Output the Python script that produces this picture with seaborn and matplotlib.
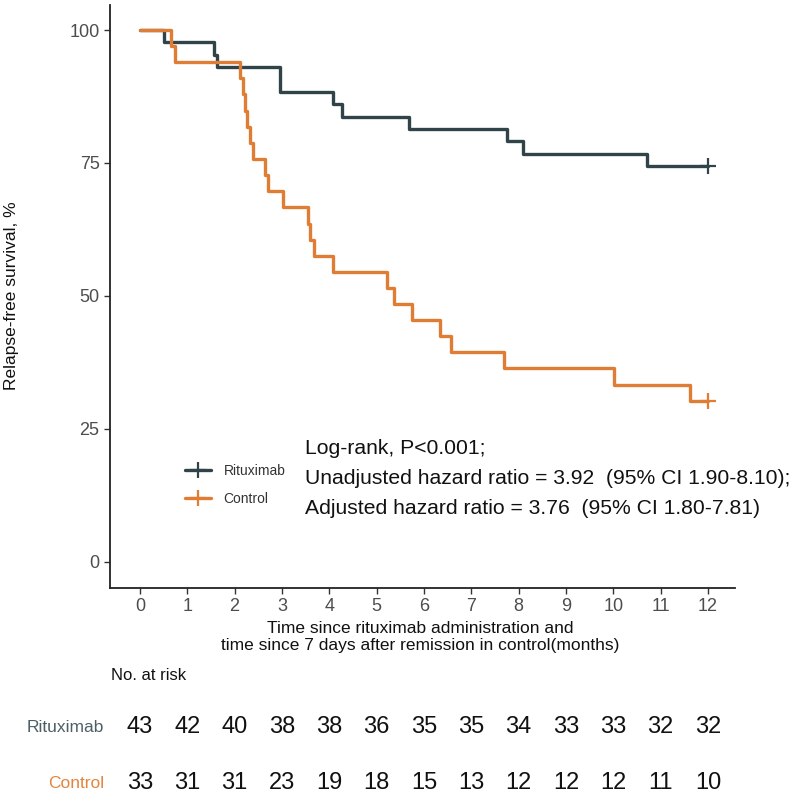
import pandas as pd
import matplotlib
matplotlib.use("Agg")
import matplotlib.pyplot as plt
import seaborn as sns
from matplotlib.lines import Line2D

# Kaplan-Meier steps
ritux_time = [0, 0.51, 1.57, 1.62, 2.96, 4.08, 4.27, 5.69, 7.76, 8.10, 10.71, 12.0]
ritux_surv = [100, 97.7, 95.3, 93.0, 88.4, 86.0, 83.7, 81.4, 79.1, 76.7, 74.4, 74.4]

ctrl_time = [0, 0.66, 0.74, 2.11, 2.18, 2.23, 2.27, 2.32, 2.39, 2.65, 2.71, 3.03,
             3.56, 3.60, 3.67, 4.08, 5.21, 5.37, 5.75, 6.34, 6.58, 7.70, 10.02, 11.63, 12.0]
ctrl_surv = [100, 97.0, 93.9, 90.9, 87.9, 84.8, 81.8, 78.8, 75.8, 72.7, 69.7, 66.7,
             63.6, 60.6, 57.6, 54.5, 51.5, 48.5, 45.5, 42.4, 39.4, 36.4, 33.3, 30.3, 30.3]

groups = ["Rituximab", "Control"]
risk_times = list(range(13))
ritux_risk = [43, 42, 40, 38, 38, 36, 35, 35, 34, 33, 33, 32, 32]
ctrl_risk = [33, 31, 31, 23, 19, 18, 15, 13, 12, 12, 12, 11, 10]

stats_text = ["Log-rank, P<0.001;",
              "Unadjusted hazard ratio = 3.92  (95% CI 1.90-8.10);",
              "Adjusted hazard ratio = 3.76  (95% CI 1.80-7.81)"]

colors = {"Rituximab": "#2f4349", "Control": "#e07d35"}
label_colors = {"Rituximab": "#4d5f66", "Control": "#e3853f"}

df = pd.concat([
    pd.DataFrame({"time": ritux_time, "surv": ritux_surv, "group": "Rituximab"}),
    pd.DataFrame({"time": ctrl_time, "surv": ctrl_surv, "group": "Control"}),
])
censor = df.groupby("group").tail(1)

sns.set_theme(style="ticks")
plt.rcParams["font.family"] = ["Liberation Sans", "DejaVu Sans"]

W, H = 792, 799
fig = plt.figure(figsize=(W / 100, H / 100), dpi=100)
ax = fig.add_axes([110 / W, 1 - 588 / H, 625 / W, 583 / H])

sns.lineplot(data=df, x="time", y="surv", hue="group", palette=colors,
             estimator=None, sort=False, drawstyle="steps-post",
             linewidth=2.4, legend=False, ax=ax)
sns.scatterplot(data=censor, x="time", y="surv", hue="group", palette=colors,
                marker="+", s=130, linewidth=1.6, legend=False, ax=ax, zorder=3)

ax.set_xlim(-0.63, 12.57)
ax.set_ylim(-4.9, 104.7)
ax.set_xticks(risk_times)
ax.set_yticks([0, 25, 50, 75, 100])
ax.tick_params(labelsize=13, labelcolor="#4d4d4d", length=4, width=1, color="#333333")
for s in ["top", "right"]:
    ax.spines[s].set_visible(False)
for s in ["left", "bottom"]:
    ax.spines[s].set_linewidth(1.3)
    ax.spines[s].set_color("#222222")
ax.set_xlabel("")
ax.set_ylabel("")

fig.text(12 / W, 1 - 296 / H, "Relapse-free survival, %", rotation=90,
         ha="center", va="center", fontsize=12.5, color="#111111")
fig.text(420 / W, 1 - 637 / H,
         "Time since rituximab administration and\ntime since 7 days after remission in control(months)",
         ha="center", va="center", fontsize=12.5, linespacing=1.15, color="#111111")

# legend
handles = [Line2D([0], [0], color=colors[g], lw=2.4, marker="+", markersize=11,
                  markeredgewidth=1.6) for g in groups]
leg = ax.legend(handles, groups, loc="center left", frameon=False,
                bbox_to_anchor=(172 / W, 1 - 485 / H), bbox_transform=fig.transFigure,
                handlelength=1.9, handletextpad=0.9, labelspacing=1.0,
                prop={"size": 10})
for t in leg.get_texts():
    t.set_color("#333333")

for i, line in enumerate(stats_text):
    fig.text(305 / W, 1 - (449 + 30 * i) / H, line, ha="left", va="center",
             fontsize=15.2, color="#111111")

# risk table
fig.text(111 / W, 1 - 676 / H, "No. at risk", ha="left", va="center",
         fontsize=12, color="#111111")
rows = {"Rituximab": (ritux_risk, 727), "Control": (ctrl_risk, 783)}
blend = matplotlib.transforms.blended_transform_factory(ax.transData, fig.transFigure)
for g, (vals, ypix) in rows.items():
    fig.text(104 / W, 1 - ypix / H, g, ha="right", va="center", fontsize=12.5,
             color=label_colors[g])
    for t, v in zip(risk_times, vals):
        ax.text(t, 1 - ypix / H, str(v), transform=blend, ha="center", va="center",
                fontsize=17, color="#111111", clip_on=False)

fig.savefig("out.png", dpi=100)
